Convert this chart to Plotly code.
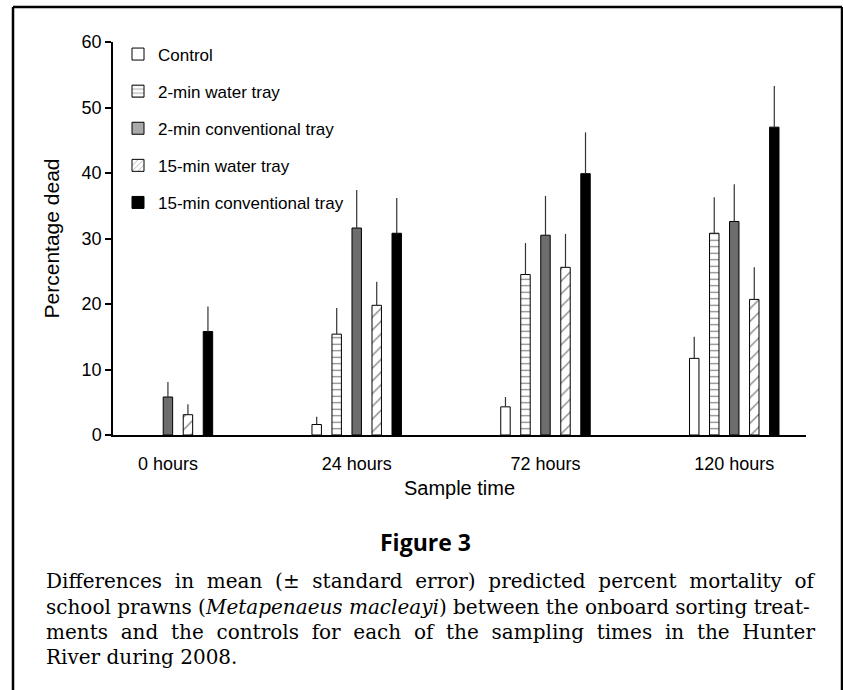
import plotly.graph_objects as go

categories = ["0 hours", "24 hours", "72 hours", "120 hours"]
series_names = ["Control", "2-min water tray", "2-min conventional tray",
                "15-min water tray", "15-min conventional tray"]

control = [None, 1.6, 4.3, 11.7]
water2 = [None, 15.4, 24.5, 30.8]
conv2 = [5.8, 31.6, 30.5, 32.6]
water15 = [3.1, 19.8, 25.6, 20.7]
conv15 = [15.8, 30.8, 39.9, 47.0]

control_se = [0, 1.2, 1.5, 3.3]
water2_se = [0, 4.0, 4.8, 5.5]
conv2_se = [2.3, 5.8, 6.0, 5.7]
water15_se = [1.6, 3.6, 5.1, 4.9]
conv15_se = [3.8, 5.4, 6.3, 6.3]

y_ticks = [0, 10, 20, 30, 40, 50, 60]

values = [control, water2, conv2, water15, conv15]
errors = [control_se, water2_se, conv2_se, water15_se, conv15_se]

styles = [
    dict(color="white", pattern=None),
    dict(color="white", pattern=dict(shape="-", fgcolor="black", bgcolor="white", size=6.5, solidity=0.18)),
    dict(color="#6d6d6d", pattern=None),
    dict(color="white", pattern=dict(shape="/", fgcolor="black", bgcolor="white", size=9, solidity=0.14)),
    dict(color="black", pattern=None),
]
legend_colors = ["white", "white", "#a9a9a9", "white", "black"]

slot = 0.106
bw = 0.05
xpos = list(range(len(categories)))

fig = go.Figure()
for i, (name, vals, errs, st) in enumerate(zip(series_names, values, errors, styles)):
    marker = dict(color=st["color"], line=dict(color="black", width=1))
    if st["pattern"]:
        marker["pattern"] = st["pattern"]
    fig.add_trace(go.Bar(
        x=xpos, y=vals, name=name, showlegend=False,
        width=bw, offset=(i - 2) * slot - bw / 2,
        marker=marker,
        error_y=dict(type="data", array=errs, arrayminus=[0] * len(errs),
                     symmetric=False, color="#333333", thickness=1.2, width=0),
    ))

# legend entries
for i, (name, st) in enumerate(zip(series_names, styles)):
    marker = dict(color=legend_colors[i], line=dict(color="black", width=1))
    if st["pattern"]:
        marker["pattern"] = dict(st["pattern"], size=5)
    fig.add_trace(go.Bar(x=[None], y=[None], name=name, legendgroup=f"g{i}",
                         marker=marker, showlegend=True))

L, R, T, B = 113, 806, 42, 435
W, H = 843, 690

def px(xp):
    return (xp - L) / (R - L)

def py(yp):
    return (B - yp) / (B - T)

fig.update_layout(
    width=W, height=H,
    margin=dict(l=L, r=W - R, t=T, b=H - B),
    paper_bgcolor="white", plot_bgcolor="white",
    barmode="overlay",
    font=dict(family="Liberation Sans, Arial, sans-serif", size=18, color="black"),
    showlegend=True,
    legend=dict(x=px(118), y=py(36.5), xanchor="left", yanchor="top",
                bgcolor="rgba(0,0,0,0)", font=dict(size=17),
                tracegroupgap=12, traceorder="grouped"),
    xaxis=dict(range=[-0.291, 3.38], tickvals=xpos, ticktext=categories,
               showgrid=False, zeroline=False, showline=True, linecolor="black",
               linewidth=1.5, ticks="", ticklabelstandoff=12,
               title=dict(text="Sample time", font=dict(size=20), standoff=8)),
    yaxis=dict(range=[0, 60], tickvals=y_ticks, showgrid=False, zeroline=False,
               showline=True, linecolor="black", linewidth=1.5,
               ticks="outside", ticklen=6, tickwidth=1.5, tickcolor="black",
               title=dict(text="Percentage dead", font=dict(size=21), standoff=16)),
)

# page frame
frame = dict(type="line", xref="paper", yref="paper", line=dict(color="black", width=2.5))
fig.add_shape(**frame, x0=px(13), x1=px(13), y0=py(7), y1=py(700))
fig.add_shape(**frame, x0=px(13), x1=px(842), y0=py(7), y1=py(7))
fig.add_shape(**frame, x0=px(842), x1=px(842), y0=py(7), y1=py(700))

fig.add_annotation(text="<b>Figure 3</b>", x=px(425), y=py(542), xref="paper", yref="paper",
                   yanchor="middle", showarrow=False,
                   font=dict(family="Open Sans, sans-serif", size=23))

caption = [
    "Differences  in  mean  (±  standard  error)  predicted  percent  mortality  of",
    "school prawns (<i>Metapenaeus macleayi</i>) between the onboard sorting treat-",
    "ments  and  the  controls  for  each  of  the  sampling  times  in  the  Hunter",
    "River during 2008.",
]
cap_y = [581, 607, 632, 657]
for line, yy in zip(caption, cap_y):
    fig.add_annotation(text=line, x=px(44), y=py(yy), xref="paper", yref="paper",
                       xanchor="left", yanchor="middle", showarrow=False,
                       font=dict(family="DejaVu Serif, serif", size=20))

fig.write_html("out.html", config={"displayModeBar": False},
               post_script="document.body.style.margin='0';document.body.style.overflow='hidden';")
